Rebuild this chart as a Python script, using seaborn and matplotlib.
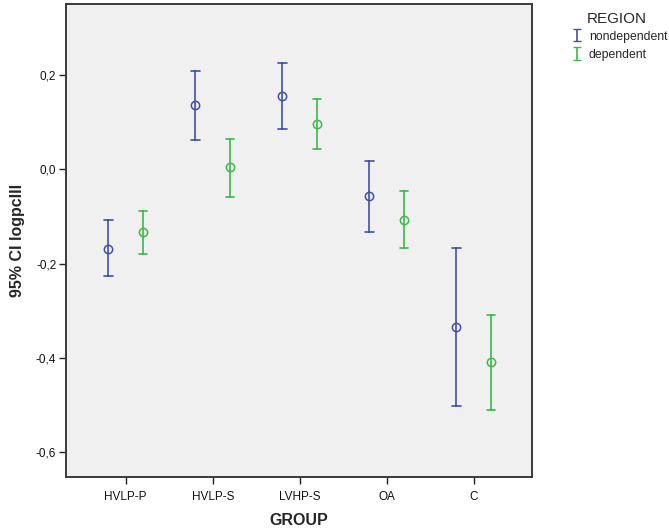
import numpy as np
import pandas as pd
import matplotlib
matplotlib.use("Agg")
import matplotlib.pyplot as plt
import seaborn as sns
from matplotlib.ticker import FuncFormatter

# ---- data ----
groups = ["HVLP-P", "HVLP-S", "LVHP-S", "OA", "C"]
regions = ["nondependent", "dependent"]
nondep_mean = [-0.168, 0.136, 0.156, -0.056, -0.334]
nondep_low = [-0.227, 0.063, 0.085, -0.132, -0.501]
nondep_high = [-0.108, 0.208, 0.226, 0.018, -0.167]
dep_mean = [-0.133, 0.004, 0.097, -0.107, -0.409]
dep_low = [-0.180, -0.058, 0.043, -0.167, -0.511]
dep_high = [-0.088, 0.065, 0.149, -0.046, -0.308]
ytick_vals = [-0.6, -0.4, -0.2, 0.0, 0.2]

colors = {"nondependent": "#4150a6", "dependent": "#3cb94b"}

rows = []
for region, lo, mid, hi in [("nondependent", nondep_low, nondep_mean, nondep_high),
                            ("dependent", dep_low, dep_mean, dep_high)]:
    for g, a, b, c in zip(groups, lo, mid, hi):
        for v in (a, b, c):
            rows.append({"GROUP": g, "REGION": region, "value": v})
df = pd.DataFrame(rows)

sns.set_style("white")
plt.rcParams["font.family"] = ["Liberation Sans", "DejaVu Sans"]

fig = plt.figure(figsize=(6.69, 5.31), dpi=100)
ax = fig.add_axes([66 / 669, 1 - 477 / 531, (532 - 66) / 669, (477 - 4) / 531])
ax.set_facecolor("#f0f0f0")

sns.pointplot(data=df, x="GROUP", y="value", hue="REGION", order=groups,
              hue_order=regions, palette=colors, estimator="median",
              errorbar=("pi", 100), dodge=0.4, linestyle="none", markers="o",
              capsize=0.1, err_kws={"linewidth": 1.2}, markersize=6,
              markeredgewidth=1.1, legend=False, ax=ax)

for ln in ax.lines:
    ln.set_markerfacecolor("none")

ax.set_xlim(-0.686, 4.67)
ax.set_ylim(-0.6524, 0.3506)
ax.set_yticks(ytick_vals)
ax.yaxis.set_major_formatter(FuncFormatter(lambda v, p: f"{v:.1f}".replace(".", ",")))

for side in ["left", "right", "top", "bottom"]:
    ax.spines[side].set_visible(True)
    ax.spines[side].set_color("#3a3a3a")
    ax.spines[side].set_linewidth(1.4)

ax.tick_params(axis="both", which="major", direction="out", length=5, width=1,
               color="#222222", labelsize=8.5, labelcolor="#111111", bottom=True, left=True)
ax.tick_params(axis="x", pad=5)
ax.tick_params(axis="y", pad=2)

ax.set_xlabel("GROUP", fontsize=11.5, fontweight="bold", labelpad=7)
ax.set_ylabel("95% CI logpcIII", fontsize=11.5, fontweight="bold", labelpad=8)

# legend
handles = []
for r in regions:
    h = ax.errorbar([np.nan], [np.nan], yerr=[[0.1], [0.1]], fmt="none",
                    ecolor=colors[r], capsize=3, elinewidth=1.2, label=r)
    handles.append(h)
fig.text(587 / 669, 1 - 19 / 531, "REGION", fontsize=11, va="center", ha="left")
fig.legend(handles=handles, labels=regions, loc="upper left",
           bbox_to_anchor=(562 / 669, 1 - 22 / 531), frameon=False, fontsize=8.8,
           handlelength=1.0, handleheight=1.0, handletextpad=0.5, labelspacing=0.45,
           borderpad=0.2)

fig.savefig("out.png", dpi=100, facecolor="white")
